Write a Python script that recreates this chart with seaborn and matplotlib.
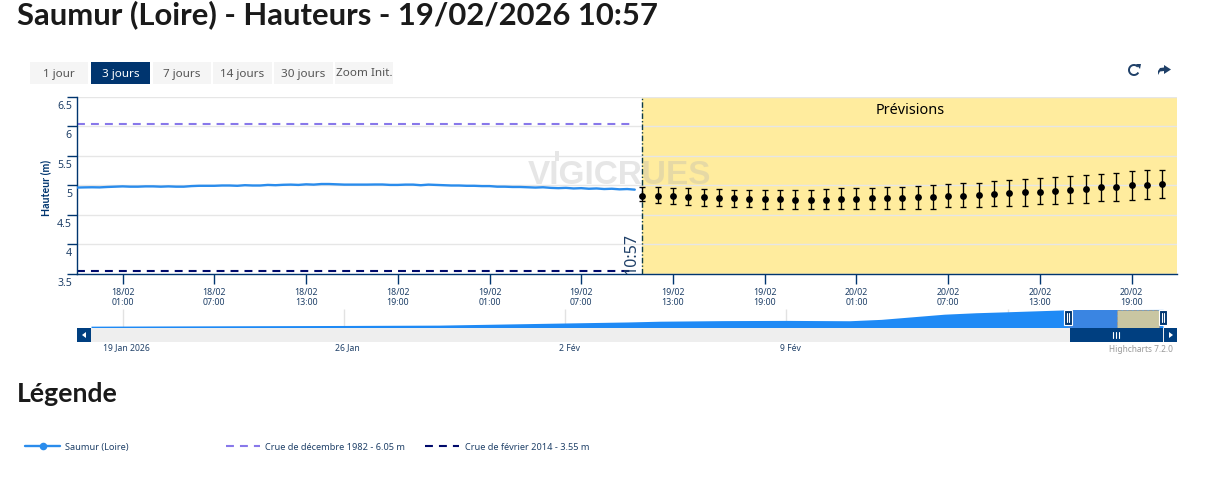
import numpy as np
import pandas as pd
import matplotlib
matplotlib.use('Agg')
import matplotlib.pyplot as plt
import matplotlib.transforms as mtrans
from matplotlib.patches import Rectangle, Arc, Polygon
import seaborn as sns

# observed water level, half hourly from 17/02 22:00
obs_start = '2026-02-17 22:00'
obs_height = [4.965, 4.968, 4.97, 4.968, 4.975, 4.98, 4.985, 4.98, 4.98, 4.985, 4.985, 4.98, 4.985, 4.98,
              4.98, 4.99, 4.995, 4.995, 4.995, 5.0, 5.0, 4.995, 5.005, 5.0, 5.0, 5.01, 5.005, 5.012,
              5.015, 5.01, 5.02, 5.015, 5.025, 5.025, 5.02, 5.015, 5.015, 5.015, 5.015, 5.017, 5.017, 5.01,
              5.01, 5.015, 5.015, 5.005, 5.015, 5.01, 5.005, 5.0, 5.0, 4.995, 4.995, 4.99, 4.99, 4.98,
              4.98, 4.975, 4.975, 4.97, 4.965, 4.97, 4.96, 4.955, 4.96, 4.95, 4.955, 4.945, 4.95, 4.94,
              4.945, 4.935, 4.94, 4.93]

# forecast, hourly from 19/02 11:00
fc_start = '2026-02-19 11:00'
fc_mid = [4.83, 4.82, 4.82, 4.805, 4.80, 4.79, 4.78, 4.77, 4.77, 4.765, 4.76, 4.76, 4.76, 4.765,
          4.77, 4.78, 4.78, 4.79, 4.80, 4.805, 4.815, 4.83, 4.845, 4.855, 4.87, 4.885, 4.895,
          4.91, 4.92, 4.94, 4.97, 4.975, 5.0, 5.01, 5.025]
fc_high = [4.975, 4.975, 4.95, 4.95, 4.94, 4.935, 4.92, 4.92, 4.92, 4.92, 4.92, 4.92, 4.94, 4.95,
           4.95, 4.95, 4.97, 4.97, 4.985, 5.0, 5.02, 5.035, 5.05, 5.07, 5.09, 5.105, 5.12,
           5.14, 5.155, 5.17, 5.19, 5.205, 5.24, 5.26, 5.27]
fc_low = [4.73, 4.70, 4.69, 4.675, 4.66, 4.65, 4.63, 4.63, 4.61, 4.61, 4.60, 4.60, 4.60, 4.60,
          4.60, 4.60, 4.60, 4.61, 4.61, 4.61, 4.63, 4.63, 4.63, 4.65, 4.66, 4.66, 4.68,
          4.68, 4.70, 4.71, 4.73, 4.73, 4.75, 4.765, 4.78]

crue_1982 = 6.05
crue_2014 = 3.55

y_ticks = [3.5, 4, 4.5, 5, 5.5, 6, 6.5]
y_labels = ['3.5', '4', '4.5', '5', '5.5', '6', '6.5']
x_ticks = ['2026-02-18 01:00', '2026-02-18 07:00', '2026-02-18 13:00', '2026-02-18 19:00',
           '2026-02-19 01:00', '2026-02-19 07:00', '2026-02-19 13:00', '2026-02-19 19:00',
           '2026-02-20 01:00', '2026-02-20 07:00', '2026-02-20 13:00', '2026-02-20 19:00']
x_labels = ['18/02\n01:00', '18/02\n07:00', '18/02\n13:00', '18/02\n19:00',
            '19/02\n01:00', '19/02\n07:00', '19/02\n13:00', '19/02\n19:00',
            '20/02\n01:00', '20/02\n07:00', '20/02\n13:00', '20/02\n19:00']

# navigator overview
nav_dates = ['2026-01-18 00:00', '2026-01-22 00:00', '2026-01-26 00:00', '2026-01-29 00:00', '2026-02-02 00:00',
             '2026-02-04 00:00', '2026-02-05 00:00', '2026-02-07 00:00', '2026-02-09 00:00', '2026-02-11 00:00',
             '2026-02-12 00:00', '2026-02-13 00:00', '2026-02-14 00:00', '2026-02-15 00:00', '2026-02-16 00:00',
             '2026-02-17 00:00', '2026-02-18 00:00', '2026-02-20 22:00']
nav_height = [2.12, 2.18, 2.24, 2.3, 2.67, 2.85, 2.98, 3.08, 3.12, 3.06, 3.3, 3.75,
              4.2, 4.45, 4.62, 4.8, 4.98, 5.03]
nav_grid = ['2026-01-19', '2026-01-26', '2026-02-02', '2026-02-09', '2026-02-16']
nav_ticks = ['2026-01-19', '2026-01-26', '2026-02-02', '2026-02-09']
nav_labels = ['19 Jan 2026', '26 Jan', '2 Fév', '9 Fév']

buttons = ['1 jour', '3 jours', '7 jours', '14 jours', '30 jours', 'Zoom Init.']
button_left = [30, 91, 153, 213, 274, 335]
button_right = [88, 150, 211, 272, 333, 393]

view_start = pd.Timestamp('2026-02-17 22:01')
view_end = pd.Timestamp('2026-02-20 21:58')
now = pd.Timestamp('2026-02-19 10:57')
thresh_end = pd.Timestamp('2026-02-19 10:17')

NAVY = '#00356f'
TEXT = '#1f4068'
BLUE = '#2a8cec'
BOLD = 'Lato'

W, H = 1205, 485
sns.set_theme(style='white')
plt.rcParams['font.family'] = ['Noto Sans', 'DejaVu Sans']

fig = plt.figure(figsize=(W / 100, H / 100), dpi=100)


def box(left, top, right, bottom):
    return [left / W, (H - bottom) / H, (right - left) / W, (bottom - top) / H]


def px_shift(x, y):
    return mtrans.ScaledTranslation(x / 100, -y / 100, fig.dpi_scale_trans)


ax = fig.add_axes(box(77, 98, 1177, 275))
nav = fig.add_axes(box(91, 310, 1163, 329))
px = fig.add_axes([0, 0, 1, 1], zorder=5)
px.set_xlim(0, W)
px.set_ylim(H, 0)
px.axis('off')

# main chart
obs = pd.DataFrame({'t': pd.date_range(obs_start, periods=len(obs_height), freq='30min'), 'h': obs_height})
fc = pd.DataFrame({'t': pd.date_range(fc_start, periods=len(fc_mid), freq='h'),
                   'mid': fc_mid, 'high': fc_high, 'low': fc_low})
t1982 = pd.DataFrame({'t': [view_start, thresh_end], 'h': [crue_1982, crue_1982]})
t2014 = pd.DataFrame({'t': [view_start, thresh_end], 'h': [crue_2014, crue_2014]})

ax.axvspan(now, view_end, color='#ffec9e', lw=0, zorder=0.5)
ax.text(619, 176, 'VIGICRUES', transform=px.transData, ha='center', va='center', fontsize=24,
        fontweight='bold', family='Liberation Sans', color='#b5b5b5', alpha=0.33, zorder=1)
ax.add_patch(Rectangle((555, 152), 4, 10, transform=px.transData, color='#b5b5b5', alpha=0.33, lw=0, zorder=1))

sns.lineplot(data=t1982, x='t', y='h', ax=ax, color='#8878ea', lw=1.5, linestyle=(0, (3.8, 2.9)), zorder=2)
sns.lineplot(data=t2014, x='t', y='h', ax=ax, color='#000a6b', lw=1.5, linestyle=(0, (3.8, 2.9)), zorder=2)
sns.lineplot(data=obs, x='t', y='h', ax=ax, color=BLUE, lw=1.7, zorder=3)
ax.vlines(now, 3.5, 6.5, color='#0d3b46', lw=1, linestyle=(0, (4, 1.5, 1, 1.5)), zorder=3)
ax.errorbar(fc['t'], fc['mid'], yerr=[fc['mid'] - fc['low'], fc['high'] - fc['mid']], fmt='none',
            ecolor='black', elinewidth=0.95, capsize=2.2, capthick=0.95, zorder=4)
sns.scatterplot(data=fc, x='t', y='mid', ax=ax, color='black', s=24, lw=0, zorder=5)

ax.set_xlim(view_start, view_end)
ax.set_ylim(3.5, 6.5)
ax.set_xlabel('')
ax.set_ylabel('')
ax.set_yticks(y_ticks)
ax.set_yticklabels(y_labels)
ax.set_xticks(pd.to_datetime(x_ticks))
ax.set_xticklabels(x_labels, linespacing=1.25)
ax.tick_params(axis='x', bottom=True, length=7.2, width=1, color=NAVY, labelsize=6.4, labelcolor=TEXT, pad=1.9)
ax.tick_params(axis='y', left=True, length=7.2, width=1, color=NAVY, labelsize=7.6, labelcolor=TEXT, pad=-3.6)
for lab in ax.get_yticklabels():
    lab.set_va('top')
    lab.set_transform(lab.get_transform() + px_shift(0, 3))
ax.grid(axis='y', color='#e6e6e6', lw=1)
ax.set_axisbelow('line')
for side in ['top', 'right']:
    ax.spines[side].set_visible(False)
for side in ['left', 'bottom']:
    ax.spines[side].set_color(NAVY)
    ax.spines[side].set_linewidth(1)

# navigator
nd = pd.DataFrame({'t': pd.to_datetime(nav_dates), 'h': nav_height})
nav_bottom, nav_top = 1.8, 5.1
nav.vlines(pd.to_datetime(nav_grid), nav_bottom, nav_top, color='#e2e2e2', lw=1, zorder=0.5)
nav.fill_between(nd['t'], nd['h'], nav_bottom, color='#1f8af5', lw=0, zorder=1)
nav.axvspan(view_start, now, ymax=0.95, color='#3a85e2', lw=0, zorder=2)
nav.axvspan(now, pd.Timestamp('2026-02-20 19:00'), ymax=0.95, facecolor='#c9c6a2', edgecolor='#999999',
            lw=0.7, linestyle='--', zorder=2)
nav.set_xlim(pd.Timestamp('2026-01-18'), pd.Timestamp('2026-02-20 22:00'))
nav.set_ylim(nav_bottom, nav_top)
nav.set_yticks([])
nav.set_xticks(pd.to_datetime(nav_ticks))
nav.set_xticklabels(nav_labels)
nav.tick_params(axis='x', length=0, pad=10.5, labelsize=6.2, labelcolor=TEXT)
for lab in nav.get_xticklabels():
    lab.set_transform(lab.get_transform() + px_shift(4, 0))
nav.patch.set_alpha(0)
for spine in nav.spines.values():
    spine.set_visible(False)

# scrollbar and handles
px.add_patch(Rectangle((91, 329), 1073, 14, color='#eeeeee', lw=0))
px.add_patch(Rectangle((1070, 329), 93, 14, color='#003f80', lw=0))
px.add_patch(Rectangle((77, 329), 14, 14, color='#003f80', lw=0))
px.add_patch(Rectangle((1164, 329), 13, 14, color='#003f80', lw=0))
px.add_patch(Polygon([[86, 333], [86, 339], [82, 336]], color='white', lw=0))
px.add_patch(Polygon([[1169, 333], [1169, 339], [1173, 336]], color='white', lw=0))
for x in [1113, 1116, 1119]:
    px.plot([x, x], [333, 339], color='white', lw=0.8)
for x in [1068, 1163]:
    px.add_patch(Rectangle((x - 4, 311), 8, 15, facecolor='#00356f', edgecolor='white', lw=0.8))
    px.plot([x - 1, x - 1], [314, 323], color='white', lw=0.8)
    px.plot([x + 1, x + 1], [314, 323], color='white', lw=0.8)

# text on the chart
px.text(46, 188, 'Hauteur (m)', rotation=90, ha='center', va='center', fontsize=7.6, fontweight='bold',
        family=BOLD, color=NAVY)
px.text(910, 110, 'Prévisions', ha='center', va='center', fontsize=10.4, color='black')
px.text(632, 254, '10:57', rotation=90, ha='center', va='center', fontsize=11.5, color=TEXT)
px.text(1173, 350, 'Highcharts 7.2.0', ha='right', va='center', fontsize=6, color='#999999')

# range buttons
for i, name in enumerate(buttons):
    active = name == '3 jours'
    px.add_patch(Rectangle((button_left[i], 63), button_right[i] - button_left[i], 22,
                           color=NAVY if active else '#f5f5f5', lw=0))
    px.text((button_left[i] + button_right[i]) / 2, 74, name, ha='center', va='center', fontsize=8.4,
            color='white' if active else '#555555')

# refresh and share icons
px.add_patch(Arc((1134, 71), 10, 10, theta1=30, theta2=320, color=TEXT, lw=1.4))
px.add_patch(Polygon([[1136, 65], [1141, 65], [1140, 70]], color=TEXT, lw=0))
px.add_patch(Polygon([[1164, 66], [1171, 70.5], [1164, 75], [1164, 72], [1160, 72.5], [1158, 76],
                      [1158, 72], [1160, 69], [1164, 68.5]], color=TEXT, lw=0))

# headings
px.text(17, 14.5, 'Saumur (Loire) - Hauteurs - 19/02/2026 10:57', ha='left', va='center',
        fontsize=22.3, fontweight='bold', family=BOLD, color='#1a1a1a')
px.text(17, 394, 'Légende', ha='left', va='center', fontsize=19.2, fontweight='bold', family=BOLD, color='#1a1a1a')

# legend
px.plot([25, 60], [447, 447], color=BLUE, lw=1.7)
px.scatter([43], [447], s=30, color=BLUE, lw=0)
px.text(65, 447.5, 'Saumur (Loire)', ha='left', va='center', fontsize=6.6, color=TEXT)
px.plot([226, 260], [447, 447], color='#8878ea', lw=1.5, linestyle=(0, (3.8, 2.9)))
px.text(265, 447.5, 'Crue de décembre 1982 - 6.05 m', ha='left', va='center', fontsize=6.6, color=TEXT)
px.plot([425, 459], [447, 447], color='#000a6b', lw=1.5, linestyle=(0, (3.8, 2.9)))
px.text(465, 447.5, 'Crue de février 2014 - 3.55 m', ha='left', va='center', fontsize=6.6, color=TEXT)

fig.savefig('out.png', dpi=100)
